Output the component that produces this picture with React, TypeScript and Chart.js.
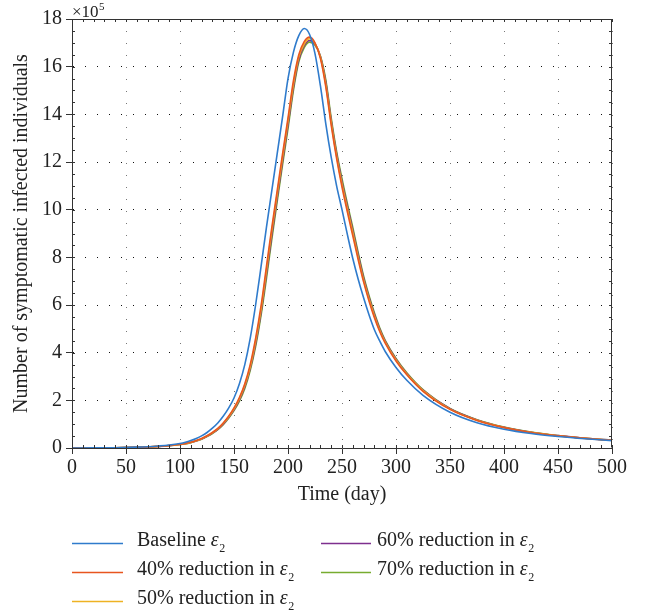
import React, { useEffect, useRef } from "react";
import { Chart, registerables } from "chart.js";

Chart.register(...registerables);

// ---- data ----
const days = [
  0, 20, 40, 60, 70, 80, 90,
  100, 105, 110, 115, 120, 125, 130, 135, 140, 145,
  150, 155, 160, 165, 170, 175, 180, 185, 190, 195,
  200, 205, 210, 215, 220, 225, 230, 235, 240, 245,
  250, 255, 260, 265, 270, 275, 280, 285, 290,
  300, 310, 325, 350, 375, 400, 425, 450, 475, 500,
];

const baseline = [
  0, 0.004, 0.012, 0.035, 0.055, 0.085, 0.125,
  0.19, 0.24, 0.31, 0.4, 0.51, 0.65, 0.83, 1.05, 1.33, 1.67,
  2.1, 2.7, 3.5, 4.6, 6.0, 7.6, 9.25, 10.8, 12.35, 13.9,
  15.5, 16.6, 17.3, 17.6, 17.35, 16.55, 15.2, 13.6, 12.2, 11.0,
  10.0, 8.95, 7.95, 7.08, 6.3, 5.59, 4.96, 4.48, 4.05,
  3.38, 2.84, 2.21, 1.5, 1.06, 0.787, 0.605, 0.48, 0.385, 0.311,
];
const red40 = [
  0, 0.003, 0.01, 0.029, 0.045, 0.07, 0.104,
  0.155, 0.19, 0.24, 0.31, 0.4, 0.515, 0.65, 0.82, 1.05, 1.33,
  1.68, 2.12, 2.7, 3.5, 4.6, 5.95, 7.6, 9.25, 10.8, 12.35,
  13.85, 15.4, 16.5, 17.05, 17.24, 17.0, 16.35, 15.15, 13.55, 12.15,
  10.95, 9.9, 8.9, 7.9, 6.97, 6.17, 5.47, 4.88, 4.4,
  3.65, 3.07, 2.38, 1.62, 1.155, 0.855, 0.65, 0.511, 0.403, 0.321,
];
const red50 = [
  0, 0.003, 0.0095, 0.028, 0.044, 0.068, 0.102,
  0.152, 0.185, 0.235, 0.3, 0.39, 0.505, 0.64, 0.8, 1.03, 1.3,
  1.64, 2.07, 2.63, 3.4, 4.47, 5.8, 7.43, 9.1, 10.65, 12.2,
  13.7, 15.25, 16.4, 16.95, 17.17, 16.98, 16.4, 15.25, 13.65, 12.25,
  11.07, 10.03, 9.03, 8.0, 7.05, 6.25, 5.54, 4.93, 4.44,
  3.69, 3.1, 2.41, 1.63, 1.165, 0.863, 0.657, 0.515, 0.406, 0.322,
];
const red60 = [
  0, 0.003, 0.009, 0.0275, 0.043, 0.066, 0.1,
  0.148, 0.18, 0.23, 0.295, 0.38, 0.49, 0.625, 0.785, 1.0, 1.28,
  1.6, 2.02, 2.57, 3.33, 4.36, 5.68, 7.27, 8.92, 10.5, 12.05,
  13.55, 15.12, 16.3, 16.88, 17.1, 16.95, 16.43, 15.35, 13.75, 12.35,
  11.18, 10.14, 9.14, 8.1, 7.14, 6.33, 5.61, 4.98, 4.48,
  3.73, 3.13, 2.43, 1.645, 1.178, 0.872, 0.662, 0.519, 0.408, 0.324,
];
const red70 = [
  0, 0.003, 0.009, 0.027, 0.042, 0.065, 0.097,
  0.145, 0.175, 0.225, 0.29, 0.37, 0.48, 0.61, 0.77, 0.98, 1.25,
  1.57, 1.97, 2.5, 3.25, 4.25, 5.55, 7.1, 8.75, 10.35, 11.9,
  13.4, 15.0, 16.2, 16.8, 17.03, 16.9, 16.45, 15.45, 13.85, 12.45,
  11.3, 10.25, 9.25, 8.2, 7.22, 6.4, 5.67, 5.03, 4.52,
  3.76, 3.16, 2.45, 1.66, 1.19, 0.88, 0.668, 0.523, 0.41, 0.325,
];

const seriesLabels = ["Baseline ε", "40% reduction in ε", "50% reduction in ε", "60% reduction in ε", "70% reduction in ε"];
const seriesColors = ["#2f7bcc", "#e8551f", "#eeb223", "#7e2f8e", "#77ac30"];
const seriesValues = [baseline, red40, red50, red60, red70];

const xTitle = "Time (day)";
const yTitle = "Number of symptomatic infected individuals";
const xMin = 0, xMax = 500, xStep = 50, xMinor = 10;
const yMin = 0, yMax = 18, yStep = 2, yMinor = 0.5;

const FONT = "'Liberation Serif', 'Times New Roman', serif";

const decorPlugin = {
  id: "decor",
  afterDraw(chart: any) {
    const { ctx, chartArea: a, scales } = chart;
    const xs = scales.x, ys = scales.y;
    ctx.save();
    // frame top/right
    ctx.strokeStyle = "#333";
    ctx.lineWidth = 1;
    ctx.beginPath();
    const L = Math.round(a.left) + 0.5, R = Math.round(a.right) - 0.5;
    const T = Math.round(a.top) + 0.5, B = Math.round(a.bottom) - 0.5;
    ctx.moveTo(L, T); ctx.lineTo(R, T); ctx.lineTo(R, B);
    ctx.stroke();
    // minor ticks
    ctx.beginPath();
    for (let v = xMin; v <= xMax + 1e-9; v += xMinor) {
      const px = Math.round(xs.getPixelForValue(v)) + 0.5;
      ctx.moveTo(px, a.bottom); ctx.lineTo(px, a.bottom - 3);
      ctx.moveTo(px, a.top); ctx.lineTo(px, a.top + 3);
    }
    for (let v = yMin; v <= yMax + 1e-9; v += yMinor) {
      const py = Math.round(ys.getPixelForValue(v)) + 0.5;
      ctx.moveTo(a.left, py); ctx.lineTo(a.left + 3, py);
      ctx.moveTo(a.right, py); ctx.lineTo(a.right - 3, py);
    }
    ctx.stroke();

    ctx.fillStyle = "#222";
    // exponent
    ctx.textBaseline = "alphabetic";
    ctx.textAlign = "left";
    ctx.font = `17px ${FONT}`;
    ctx.fillText("×10", a.left, 17);
    const w = ctx.measureText("×10").width;
    ctx.font = `11px ${FONT}`;
    ctx.fillText("5", a.left + w + 0.5, 10);

    // axis titles
    ctx.font = `20px ${FONT}`;
    ctx.textAlign = "center";
    ctx.textBaseline = "middle";
    ctx.fillText(xTitle, (a.left + a.right) / 2, 495);
    ctx.save();
    ctx.translate(22, (a.top + a.bottom) / 2);
    ctx.rotate(-Math.PI / 2);
    ctx.fillText(yTitle, 0, 0);
    ctx.restore();

    // legend (two columns, filled column-wise)
    const cols = [{ lx0: 72, lx1: 123, tx: 137 }, { lx0: 321, lx1: 371, tx: 377 }];
    const rows = [543.5, 572.5, 601.5];
    chart.data.datasets.forEach((ds: any, i: number) => {
      const c = cols[Math.floor(i / 3)];
      const y = rows[i % 3];
      ctx.strokeStyle = ds.borderColor;
      ctx.lineWidth = 1.5;
      ctx.beginPath();
      ctx.moveTo(c.lx0, y); ctx.lineTo(c.lx1, y);
      ctx.stroke();
      ctx.fillStyle = "#222";
      ctx.textAlign = "left";
      ctx.textBaseline = "alphabetic";
      const label: string = ds.label;
      const main = label.slice(0, -1);
      const eps = label.slice(-1);
      ctx.font = `20px ${FONT}`;
      ctx.fillText(main, c.tx, y + 2.5);
      const mw = ctx.measureText(main).width;
      ctx.font = `italic 20px ${FONT}`;
      ctx.fillText(eps, c.tx + mw, y + 2.5);
      const ew = ctx.measureText(eps).width;
      ctx.font = `12px ${FONT}`;
      ctx.fillText("2", c.tx + mw + ew + 0.5, y + 8);
    });
    ctx.restore();
  },
};

export default function App() {
  const ref = useRef<HTMLCanvasElement | null>(null);
  useEffect(() => {
    if (!ref.current) return;
    const chart = new Chart(ref.current, {
      type: "line",
      data: {
        datasets: seriesValues.map((vals, i) => ({
          label: seriesLabels[i],
          data: days.map((d, j) => ({ x: d, y: vals[j] })),
          borderColor: seriesColors[i],
          backgroundColor: seriesColors[i],
          borderWidth: 1.6,
          pointRadius: 0,
          cubicInterpolationMode: "monotone" as const,
          fill: false,
        })),
      },
      options: {
        animation: false,
        responsive: false,
        devicePixelRatio: 1,
        layout: { padding: { left: 0, top: 19, right: 36, bottom: 0 } },
        plugins: { legend: { display: false }, tooltip: { enabled: false } },
        scales: {
          x: {
            type: "linear",
            min: xMin,
            max: xMax,
            ticks: { stepSize: xStep, padding: 2, color: "#222", font: { family: FONT, size: 20 } },
            grid: { color: "#777", lineWidth: 1, tickLength: 6, tickColor: "#333", drawTicks: true },
            border: { display: true, color: "#333", width: 1, dash: [1, 11] },
            afterFit: (s: any) => { s.height = 164; },
          },
          y: {
            type: "linear",
            min: yMin,
            max: yMax,
            ticks: { stepSize: yStep, padding: 4, color: "#222", font: { family: FONT, size: 20 } },
            grid: { color: "#111", lineWidth: 1, tickLength: 6, tickColor: "#333", drawTicks: true },
            border: { display: true, color: "#333", width: 1, dash: [1, 11] },
            afterFit: (s: any) => { s.width = 72; },
          },
        },
      },
      plugins: [decorPlugin],
    });
    return () => chart.destroy();
  }, []);
  return (
    <div style={{ position: "fixed", left: 0, top: 0, width: 648, height: 612, background: "#fff" }}>
      <canvas ref={ref} width={648} height={612} style={{ width: 648, height: 612, display: "block" }} />
    </div>
  );
}
